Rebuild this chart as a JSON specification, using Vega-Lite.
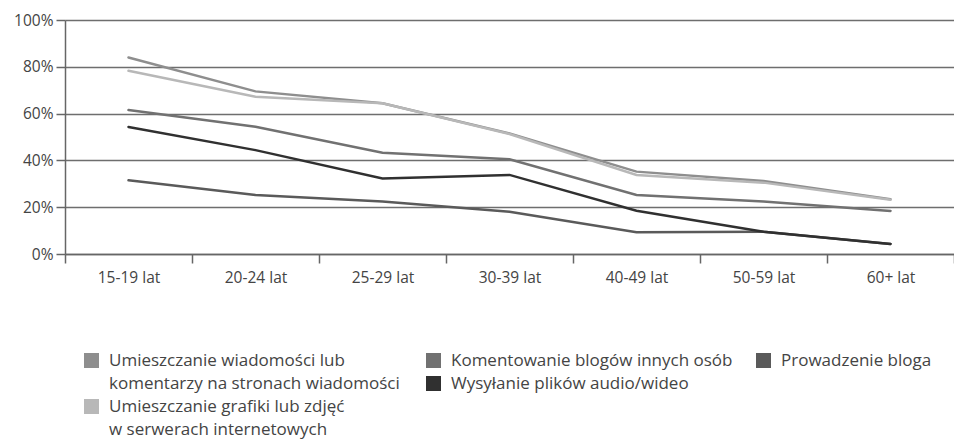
{
  "$schema": "https://vega.github.io/schema/vega-lite/v6.json",
  "width": 889,
  "height": 234,
  "autosize": {"type": "none"},
  "padding": {"left": 65, "top": 20, "right": 0, "bottom": 185},
  "background": "white",
  "config": {
    "view": {"stroke": null},
    "font": "Open Sans",
    "axis": {"labelFont": "Open Sans", "labelFontSize": 15.5, "labelColor": "#444", "domainColor": "#666", "tickColor": "#666", "domainWidth": 1.5, "tickWidth": 1.5, "tickSize": 9, "title": null},
    "legend": {"labelFont": "Open Sans", "labelFontSize": 17, "labelColor": "#444", "symbolType": "square", "symbolSize": 225, "symbolStrokeWidth": 0, "padding": 0, "labelOffset": 9, "rowPadding": 5, "direction": "vertical", "orient": "none", "title": null, "labelLimit": 400}
  },
  "data": {"values": [
    {"age": "15-19 lat", "series": "A", "value": 84},
    {"age": "20-24 lat", "series": "A", "value": 69.5},
    {"age": "25-29 lat", "series": "A", "value": 64.4},
    {"age": "30-39 lat", "series": "A", "value": 51.5},
    {"age": "40-49 lat", "series": "A", "value": 35.2},
    {"age": "50-59 lat", "series": "A", "value": 31.2},
    {"age": "60+ lat", "series": "A", "value": 23.4},
    {"age": "15-19 lat", "series": "B", "value": 78.3},
    {"age": "20-24 lat", "series": "B", "value": 67.2},
    {"age": "25-29 lat", "series": "B", "value": 64.4},
    {"age": "30-39 lat", "series": "B", "value": 51.3},
    {"age": "40-49 lat", "series": "B", "value": 33.8},
    {"age": "50-59 lat", "series": "B", "value": 30.5},
    {"age": "60+ lat", "series": "B", "value": 23.2},
    {"age": "15-19 lat", "series": "C", "value": 61.5},
    {"age": "20-24 lat", "series": "C", "value": 54.4},
    {"age": "25-29 lat", "series": "C", "value": 43.3},
    {"age": "30-39 lat", "series": "C", "value": 40.5},
    {"age": "40-49 lat", "series": "C", "value": 25.2},
    {"age": "50-59 lat", "series": "C", "value": 22.4},
    {"age": "60+ lat", "series": "C", "value": 18.4},
    {"age": "15-19 lat", "series": "D", "value": 54.3},
    {"age": "20-24 lat", "series": "D", "value": 44.4},
    {"age": "25-29 lat", "series": "D", "value": 32.3},
    {"age": "30-39 lat", "series": "D", "value": 33.8},
    {"age": "40-49 lat", "series": "D", "value": 18.5},
    {"age": "50-59 lat", "series": "D", "value": 9.5},
    {"age": "60+ lat", "series": "D", "value": 4.3},
    {"age": "15-19 lat", "series": "E", "value": 31.5},
    {"age": "20-24 lat", "series": "E", "value": 25.2},
    {"age": "25-29 lat", "series": "E", "value": 22.4},
    {"age": "30-39 lat", "series": "E", "value": 18.1},
    {"age": "40-49 lat", "series": "E", "value": 9.3},
    {"age": "50-59 lat", "series": "E", "value": 9.5},
    {"age": "60+ lat", "series": "E", "value": 4.3}
  ]},
  "encoding": {
    "x": {"field": "age", "type": "ordinal", "sort": null,
      "scale": {"type": "band", "paddingInner": 0, "paddingOuter": 0},
      "axis": {"labelAngle": 0, "tickBand": "extent", "grid": false, "labelPadding": 7}},
    "y": {"field": "value", "type": "quantitative",
      "scale": {"domain": [0, 100], "nice": false},
      "axis": {"values": [0, 20, 40, 60, 80, 100], "labelExpr": "datum.value + '%'", "grid": true, "gridColor": "#6e6e6e", "gridWidth": 1.5, "labelPadding": 3}}
  },
  "layer": [
    {
      "transform": [{"filter": "datum.series == 'E'"}],
      "mark": {"type": "line", "strokeWidth": 2.5, "strokeCap": "round"},
      "encoding": {"color": {"field": "series", "type": "nominal",
        "scale": {"domain": ["E"], "range": ["#5a5a5a"]},
        "legend": {"legendX": 690, "legendY": 332, "labelExpr": "'Prowadzenie bloga'",
          "encode": {"symbols": {"update": {"fill": {"value": "#5a5a5a"}}}}}}}
    },
    {
      "transform": [{"filter": "datum.series == 'C' || datum.series == 'D'"}],
      "mark": {"type": "line", "strokeWidth": 2.5, "strokeCap": "round"},
      "encoding": {"color": {"field": "series", "type": "nominal",
        "scale": {"domain": ["C", "D"], "range": ["#717171", "#303030"]},
        "legend": {"legendX": 360, "legendY": 332, "labelExpr": "datum.label == 'C' ? 'Komentowanie blogów innych osób' : 'Wysyłanie plików audio/wideo'",
          "encode": {"symbols": {"update": {"fill": {"signal": "datum.value == 'C' ? '#717171' : '#303030'"}}}}}}}
    },
    {
      "transform": [{"filter": "datum.series == 'A' || datum.series == 'B'"}],
      "mark": {"type": "line", "strokeWidth": 2.5, "strokeCap": "round"},
      "encoding": {"color": {"field": "series", "type": "nominal",
        "scale": {"domain": ["A", "A2", "B", "B2"], "range": ["#8e8e8e", "#ffffff", "#b8b8b8", "#ffffff"]},
        "legend": {"legendX": 18, "legendY": 332,
          "labelExpr": "datum.label == 'A' ? 'Umieszczanie wiadomości lub' : datum.label == 'A2' ? 'komentarzy na stronach wiadomości' : datum.label == 'B' ? 'Umieszczanie grafiki lub zdjęć' : 'w serwerach internetowych'",
          "encode": {"symbols": {"update": {"fill": {"signal": "datum.value == 'A' ? '#8e8e8e' : datum.value == 'B' ? '#b8b8b8' : 'transparent'"}}}}}}}
    }
  ],
  "resolve": {"scale": {"color": "independent"}}
}
